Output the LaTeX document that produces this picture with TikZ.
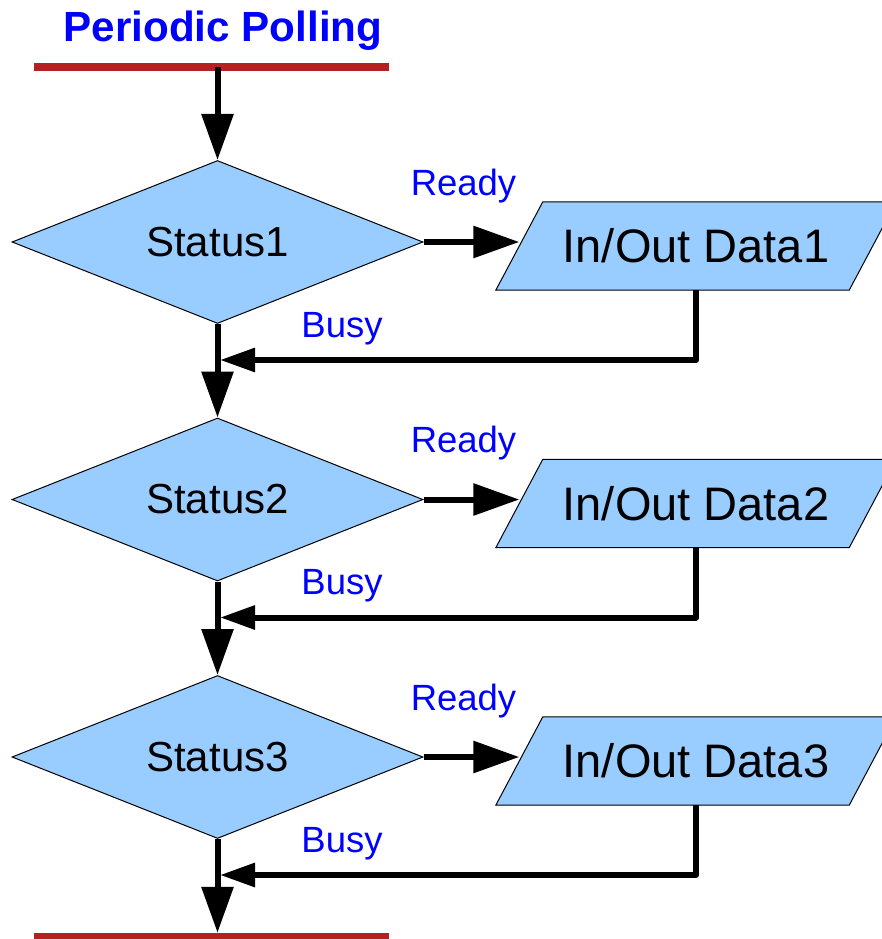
\documentclass[tikz,border=0pt]{standalone}
\usepackage{fontspec}
\setmainfont{Liberation Sans}
\usetikzlibrary{shapes.geometric,arrows.meta,backgrounds}
\definecolor{boxblue}{RGB}{153,204,255}
\definecolor{barred}{RGB}{178,34,34}
\definecolor{labelblue}{RGB}{0,0,255}
\tikzset{
  decision/.style={diamond,draw=black,line width=1pt,fill=boxblue,aspect=2.5,inner sep=0pt,
    minimum width=411pt,minimum height=163pt,font=\fontsize{42}{48}\selectfont},
  iodata/.style={rectangle,inner sep=0pt,minimum width=353pt,minimum height=88pt,
    font=\fontsize{47}{54}\selectfont},
  iobox/.style={draw=black,line width=1pt,fill=boxblue},
  bar/.style={fill=barred,minimum width=355pt,minimum height=8pt,inner sep=0pt},
  flow/.style={line width=6pt,-{Triangle[length=46pt,width=31pt]}},
  busyflow/.style={line width=6pt,line join=round,-{Triangle[length=35pt,width=23pt]}},
  tag/.style={text=labelblue,font=\fontsize{36.5}{42}\selectfont,anchor=base,inner sep=0pt}
}
\begin{document}
\begin{tikzpicture}[x=1pt,y=-1pt]
	\useasboundingbox (0,0) rectangle (882,939);
	\clip (0,0) rectangle (882,939);
	
	\node[text=labelblue,font=\bfseries\fontsize{42.2}{50}\selectfont,anchor=base,inner sep=0pt] (title) at (223,42) {Periodic Polling};
	\node[bar] (start) at (211.5,67) {};
	\node[bar] (stop) at (211.5,937) {};
	
	\foreach \i/\y in {1/242,2/499.5,3/757}{
		\node[decision] (s\i) at (217.5,\y) {Status\i};
		\node[iodata] (d\i) at (696,\y+4) {In/Out Data\i};
		\begin{scope}[on background layer]
			\draw[iobox] ([xshift=-23.5pt]d\i.south west) -- ([xshift=-23.5pt]d\i.south east)
				-- ([xshift=23.5pt]d\i.north east) -- ([xshift=23.5pt]d\i.north west) -- cycle;
		\end{scope}
		\node[tag] (r\i) at (463.5,\y-47) {Ready};
		\node[tag] (b\i) at (342,\y+95) {Busy};
		\coordinate (j\i) at (220,\y+118);
		\draw[flow] (s\i.east) -- (s\i.east -| d\i.west);
		\draw[busyflow] (d\i.south) |- (j\i);
	}
	
	\draw[flow] (start.center -| s1.north) -- (s1.north);
	\draw[flow] (s1.south) -- (s2.north);
	\draw[flow] (s2.south) -- (s3.north);
	\draw[flow] (s3.south) -- (stop.north -| s3.south);
\end{tikzpicture}
\end{document}
